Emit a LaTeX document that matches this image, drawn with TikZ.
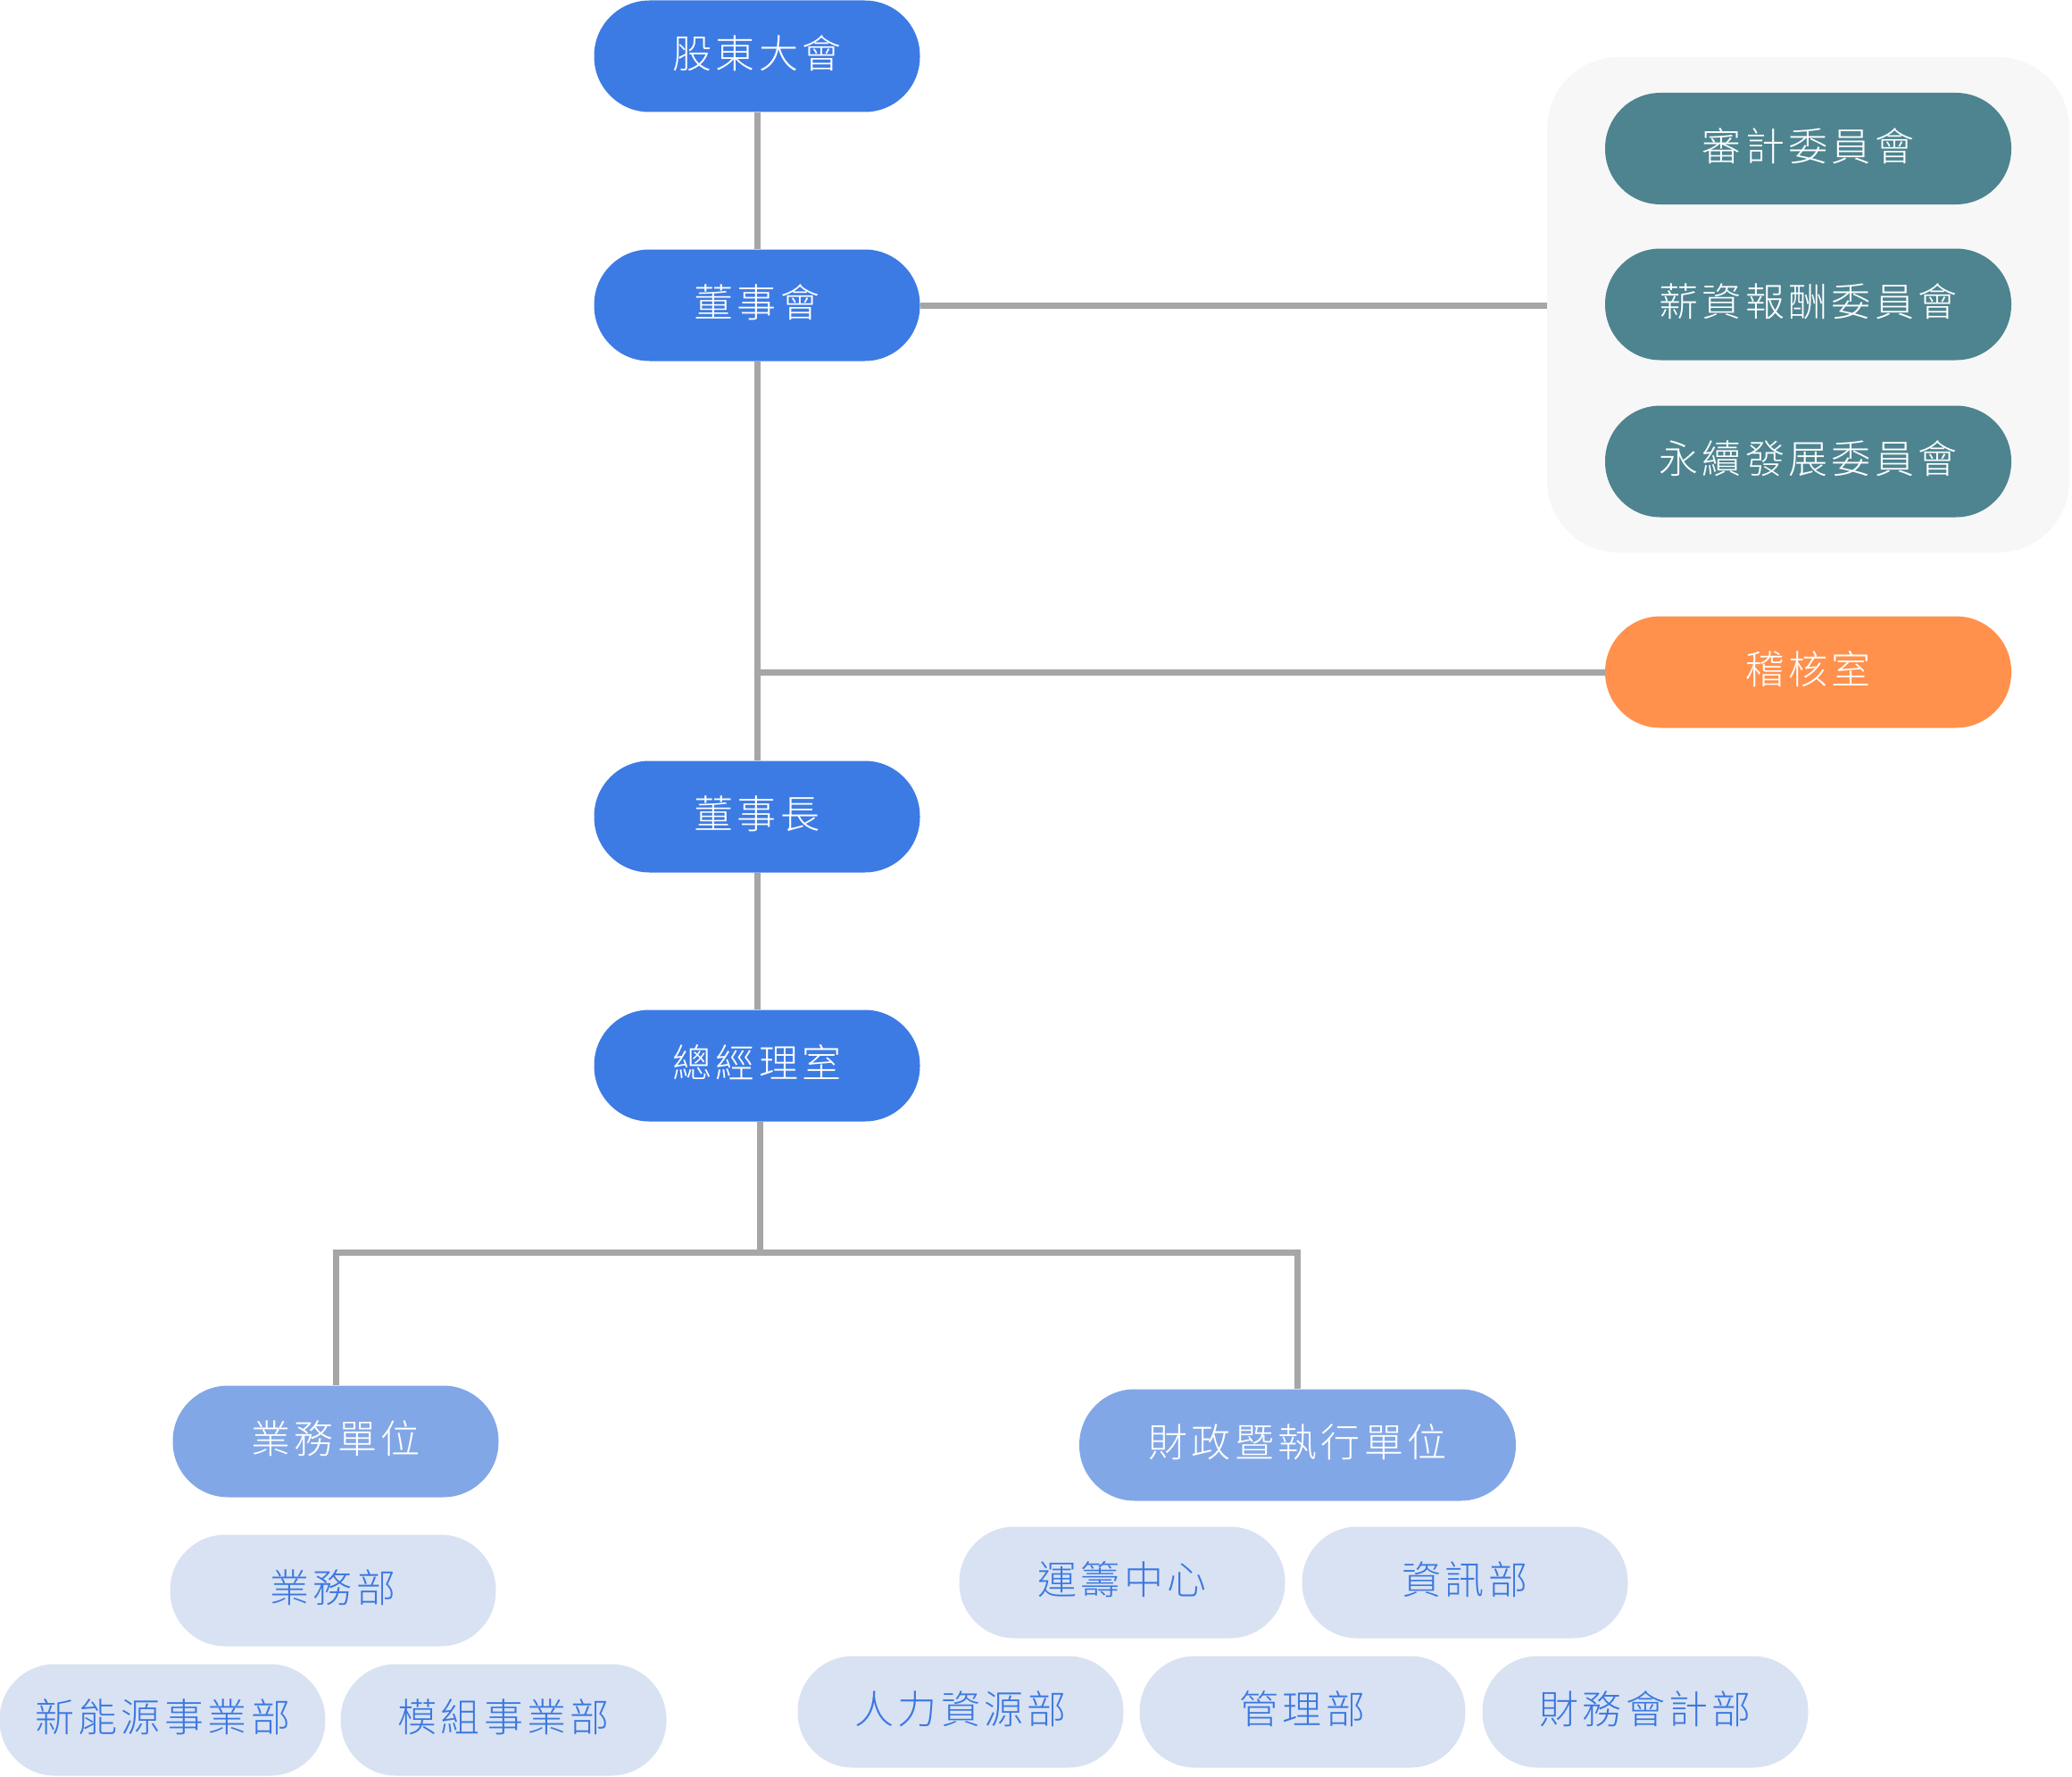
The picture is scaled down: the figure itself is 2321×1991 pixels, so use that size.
\documentclass[tikz,border=0pt]{standalone}
\usepackage{fontspec}
\newfontfamily\cjk{Noto Sans CJK TC Light}[LetterSpace=10]
\definecolor{mainblue}{RGB}{61,123,228}
\definecolor{unitblue}{RGB}{130,167,230}
\definecolor{deptpale}{RGB}{217,226,242}
\definecolor{deptText}{RGB}{59,120,224}
\definecolor{cmteTeal}{RGB}{77,132,144}
\definecolor{auditOrange}{RGB}{255,145,77}
\definecolor{lineGrey}{RGB}{166,166,166}
\definecolor{panelGrey}{RGB}{247,247,247}
\tikzset{
  pill/.style={rectangle, rounded corners=62pt, minimum width=365pt, minimum height=125pt,
    inner sep=0pt, text height=38pt, text depth=11pt,
    font=\cjk\fontsize{44}{44}\selectfont, text=white},
  mainnode/.style={pill, fill=mainblue},
  unitnode/.style={pill, fill=unitblue},
  deptnode/.style={pill, fill=deptpale, text=deptText},
  cmtenode/.style={pill, fill=cmteTeal, minimum width=455pt},
  auditnode/.style={pill, fill=auditOrange, minimum width=455pt},
  link/.style={draw=lineGrey, line width=7pt},
}
\begin{document}
\begin{tikzpicture}[x=1pt, y=-1pt]
\useasboundingbox (0,0) rectangle (2321,1991);

% committee panel
\node[rectangle, rounded corners=80pt, fill=panelGrey, minimum width=585pt, minimum height=555pt, inner sep=0pt] (committees) at (2025.5,341.5) {};
\node[cmtenode] (auditcmte) at (2025.5,166.5) {審計委員會};
\node[cmtenode] (paycmte) at (2025.5,341) {薪資報酬委員會};
\node[cmtenode] (esgcmte) at (2025.5,517) {永續發展委員會};
\node[auditnode] (audit) at (2025.5,753) {稽核室};

% main chain
\node[mainnode] (gsm) at (848,63) {股東大會};
\node[mainnode] (board) at (848,342) {董事會};
\node[mainnode] (chair) at (848,915) {董事長};
\node[mainnode] (gm) at (848,1194) {總經理室};

% units
\node[unitnode] (sales) at (376,1615) {業務單位};
\node[unitnode, minimum width=489pt] (fin) at (1453.5,1619) {財政暨執行單位};

% departments
\node[deptnode] (salesdept) at (373,1782) {業務部};
\node[deptnode] (newenergy) at (182,1927) {新能源事業部};
\node[deptnode] (module) at (564,1927) {模組事業部};
\node[deptnode] (ops) at (1257,1773) {運籌中心};
\node[deptnode] (it) at (1641,1773) {資訊部};
\node[deptnode] (hr) at (1076,1918) {人力資源部};
\node[deptnode] (admin) at (1459,1918) {管理部};
\node[deptnode] (acct) at (1843,1918) {財務會計部};

% connectors
\draw[link] (gsm) -- (board);
\draw[link] (board.east) -- (board.east -| committees.west);
\draw[link] (board) -- (chair);
\coordinate (auditTap) at (board.south |- audit.west);
\draw[link] (auditTap) -- (audit.west);
\draw[link] (chair) -- (gm);
\coordinate (split) at (851,1403);
\draw[link] (gm.south -| split) -- (split);
\draw[link] (sales.north) |- (split) -| (fin.north);
\end{tikzpicture}
\end{document}
